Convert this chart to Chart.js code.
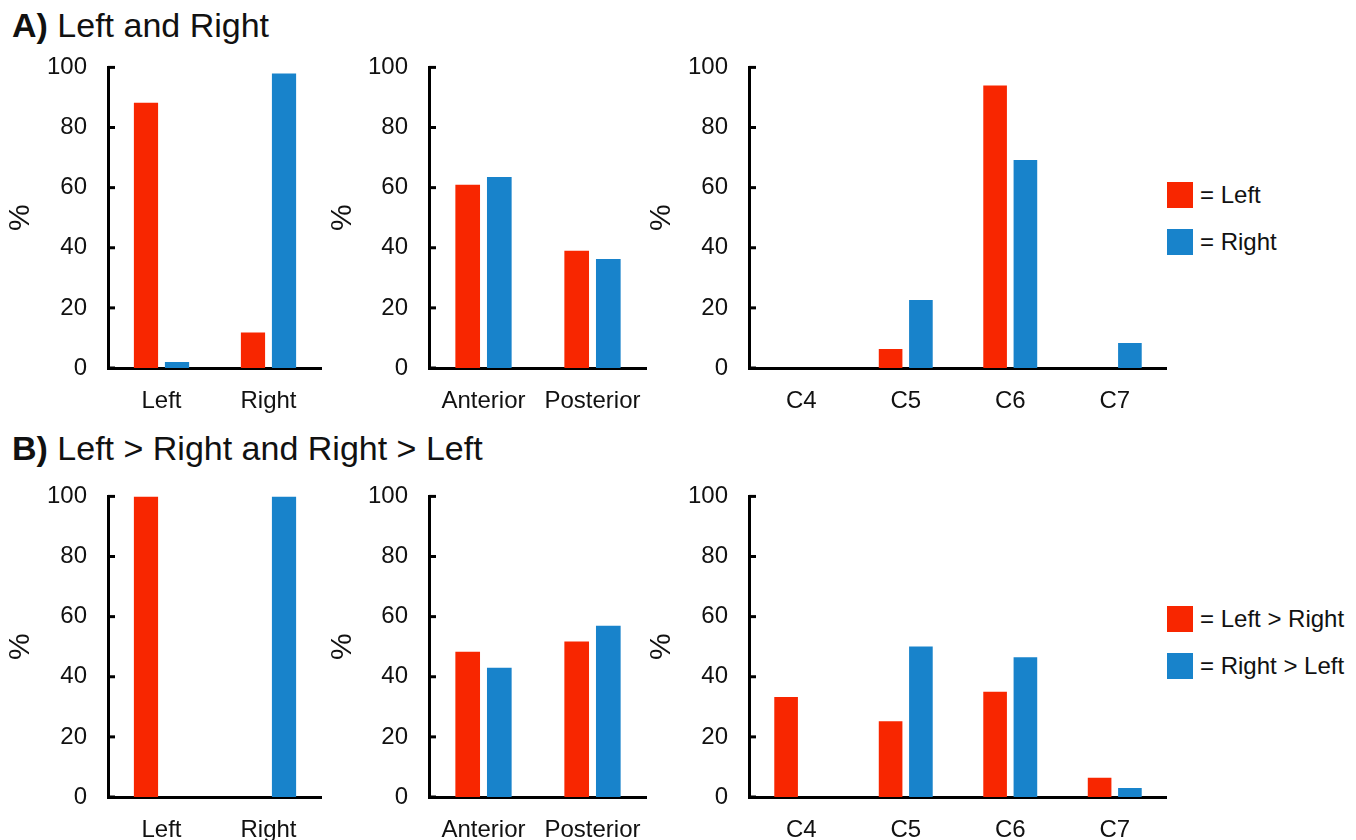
<!DOCTYPE html>
<html>
<head>
<meta charset="utf-8">
<script src="https://cdn.jsdelivr.net/npm/chart.js@4.4.1/dist/chart.umd.min.js"></script>
<style>
    html, body {
        margin: 0;
        padding: 0;
        width: 1356px;
        height: 840px;
        overflow: hidden;
        background: #fff;
        font-family: "Liberation Sans", Arial, sans-serif;
        color: #111;
    }
    .panel { position: absolute; }
    .title {
        position: absolute;
        left: 12px;
        font-size: 34px;
        line-height: 34px;
        white-space: nowrap;
    }
    .title b { font-weight: bold; }
    .legend {
        position: absolute;
        left: 1167px;
        font-size: 24px;
    }
    .legend .item {
        display: flex;
        align-items: center;
        height: 26px;
        margin-bottom: 21px;
        white-space: nowrap;
    }
    .legend .box {
        width: 26px;
        height: 26px;
        margin-right: 7px;
    }
</style>
</head>
<body>

<div class="title" style="top:8px"><b>A)</b> Left and Right</div>
<div class="title" style="top:431px"><b>B)</b> Left &gt; Right and Right &gt; Left</div>

<canvas id="a1" class="panel" width="319" height="386" style="left:3px;top:32px"></canvas>
<canvas id="a2" class="panel" width="322" height="386" style="left:325px;top:32px"></canvas>
<canvas id="a3" class="panel" width="523" height="386" style="left:644px;top:32px"></canvas>
<canvas id="b1" class="panel" width="319" height="386" style="left:3px;top:461px"></canvas>
<canvas id="b2" class="panel" width="322" height="386" style="left:325px;top:461px"></canvas>
<canvas id="b3" class="panel" width="523" height="386" style="left:644px;top:461px"></canvas>

<div id="legendA" class="legend" style="top:182px"></div>
<div id="legendB" class="legend" style="top:606px"></div>

<script>
// categories
const sideLabels = ['Left', 'Right'];
const apLabels = ['Anterior', 'Posterior'];
const levelLabels = ['C4', 'C5', 'C6', 'C7'];

// series names
const seriesA = ['Left', 'Right'];
const seriesB = ['Left > Right', 'Right > Left'];

// A) Left and Right
const aSideLeft = [88.2, 11.8];
const aSideRight = [2.0, 98.0];
const aApLeft = [61.0, 39.0];
const aApRight = [63.5, 36.3];
const aLevelLeft = [0, 6.3, 94.0, 0];
const aLevelRight = [0, 22.6, 69.2, 8.3];

// B) Left > Right and Right > Left
const bSideLeft = [100, 0];
const bSideRight = [0, 100];
const bApLeft = [48.3, 51.7];
const bApRight = [43.0, 57.0];
const bLevelLeft = [33.3, 25.2, 35.0, 6.4];
const bLevelRight = [0, 50.1, 46.5, 3.0];

const RED = '#f82600';
const BLUE = '#1883cb';

Chart.defaults.font.family = '"Liberation Sans", Arial, sans-serif';
Chart.defaults.font.size = 24;
Chart.defaults.color = '#111';

// small tick marks pointing into the plot, like the original figure
const inwardTicks = {
    id: 'inwardTicks',
    afterDraw(chart) {
        const y = chart.scales.y;
        const ctx = chart.ctx;
        ctx.save();
        ctx.strokeStyle = '#000';
        ctx.lineWidth = 3;
        y.ticks.forEach(t => {
            const py = y.getPixelForValue(t.value);
            ctx.beginPath();
            ctx.moveTo(y.right, py);
            ctx.lineTo(y.right + 7, py);
            ctx.stroke();
        });
        ctx.restore();
    }
};

function makePanel(id, labels, leftVals, rightVals, names, yWidth) {
    const config = {
        type: 'bar',
        data: {
            labels: labels,
            datasets: [
                { label: names[0], data: leftVals, backgroundColor: RED, categoryPercentage: 0.58, barPercentage: 0.78 },
                { label: names[1], data: rightVals, backgroundColor: BLUE, categoryPercentage: 0.58, barPercentage: 0.78 }
            ]
        },
        options: {
            responsive: false,
            animation: false,
            layout: { padding: 0 },
            scales: {
                y: {
                    min: 0,
                    max: 100,
                    ticks: { stepSize: 20, padding: 21, color: '#111' },
                    grid: { display: false, drawTicks: false },
                    border: { display: true, color: '#000', width: 3 },
                    title: { display: true, text: '%', padding: 0, color: '#111', font: { size: 30 } },
                    afterFit(scale) { scale.width = yWidth; }
                },
                x: {
                    ticks: { padding: 19, color: '#111' },
                    grid: { display: false, drawTicks: false },
                    border: { display: true, color: '#000', width: 3 },
                    afterFit(scale) {
                        scale.height = 50;
                        scale.paddingLeft = 0;
                        scale.paddingRight = 0;
                    }
                }
            },
            plugins: {
                legend: { display: false },
                tooltip: { enabled: false }
            }
        },
        plugins: [inwardTicks]
    };
    new Chart(document.getElementById(id), config);
}

function makeLegend(id, names) {
    const el = document.getElementById(id);
    [RED, BLUE].forEach((c, i) => {
        const item = document.createElement('div');
        item.className = 'item';
        const box = document.createElement('span');
        box.className = 'box';
        box.style.background = c;
        const txt = document.createElement('span');
        txt.textContent = '= ' + names[i];
        item.appendChild(box);
        item.appendChild(txt);
        el.appendChild(item);
    });
}

makePanel('a1', sideLabels, aSideLeft, aSideRight, seriesA, 105);
makePanel('a2', apLabels, aApLeft, aApRight, seriesA, 104);
makePanel('a3', levelLabels, aLevelLeft, aLevelRight, seriesA, 105);
makePanel('b1', sideLabels, bSideLeft, bSideRight, seriesB, 105);
makePanel('b2', apLabels, bApLeft, bApRight, seriesB, 104);
makePanel('b3', levelLabels, bLevelLeft, bLevelRight, seriesB, 105);

makeLegend('legendA', seriesA);
makeLegend('legendB', seriesB);
</script>
</body>
</html>
